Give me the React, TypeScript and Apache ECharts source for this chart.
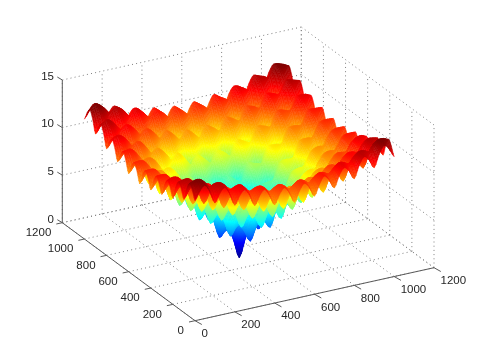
import React, { useEffect, useRef } from "react";
import * as echarts from "echarts";

const xTicks = [0, 200, 400, 600, 800, 1000, 1200];
const yTicks = [0, 200, 400, 600, 800, 1000, 1200];
const zTicks = [0, 5, 10, 15];
const axisMax = 1200;
const zMax = 15;
const gridStep = 25;
const heightUnit = 0.1;
const colourMax = 14.2;
const meshSplit = 3;
const jetKnots = [0, 0.125, 0.375, 0.625, 0.875, 1];
const jetColours = [[0, 0, 143], [0, 0, 255], [0, 255, 255], [255, 255, 0], [255, 0, 0], [127, 0, 0]];

// Surface heights in tenths, rows by y (0..1000), columns by x (0..1000).
const heights = [
[126,135,140,132,119,128,133,125,112,121,126,119,107,116,122,114,103,113,119,112,101,112,119,113,103,114,122,116,107,119,126,121,112,125,133,128,119,132,140,135,126],
[135,140,142,136,128,132,134,129,120,125,128,122,114,119,122,117,110,116,119,115,109,115,119,116,110,117,122,119,114,122,128,125,120,129,134,132,128,136,142,140,135],
[140,142,142,138,132,134,134,130,124,126,127,123,118,120,121,118,113,116,118,115,111,115,118,116,113,118,121,120,118,123,127,126,124,130,134,134,132,138,142,142,140],
[132,136,138,132,123,128,129,123,115,119,122,116,108,113,115,110,103,109,112,108,101,108,112,109,103,110,115,113,108,116,122,119,115,123,129,128,123,132,138,136,132],
[119,128,132,123,110,119,123,114,101,110,115,106,94,103,108,100,88,98,104,97,86,97,104,98,88,100,108,103,94,106,115,110,101,114,123,119,110,123,132,128,119],
[128,132,134,128,119,123,124,118,109,114,115,109,101,106,108,103,95,101,104,100,93,100,104,101,95,103,108,106,101,109,115,114,109,118,124,123,119,128,134,132,128],
[133,134,134,129,123,124,124,119,113,115,115,110,104,106,107,103,98,101,102,99,95,99,102,101,98,103,107,106,104,110,115,115,113,119,124,124,123,129,134,134,133],
[125,129,130,123,114,118,119,113,104,108,109,103,94,99,101,95,87,92,95,91,84,91,95,92,87,95,101,99,94,103,109,108,104,113,119,118,114,123,130,129,125],
[112,120,124,115,101,109,113,104,90,98,102,93,80,88,93,84,72,81,87,80,69,80,87,81,72,84,93,88,80,93,102,98,90,104,113,109,101,115,124,120,112],
[121,125,126,119,110,114,115,108,98,102,103,96,87,91,93,87,78,84,86,82,75,82,86,84,78,87,93,91,87,96,103,102,98,108,115,114,110,119,126,125,121],
[126,128,127,122,115,115,115,109,102,103,102,97,90,91,91,86,80,83,84,81,77,81,84,83,80,86,91,91,90,97,102,103,102,109,115,115,115,122,127,128,126],
[119,122,123,116,106,109,110,103,93,96,97,90,80,84,85,78,70,74,77,72,65,72,77,74,70,78,85,84,80,90,97,96,93,103,110,109,106,116,123,122,119],
[107,114,118,108,94,101,104,94,80,87,90,80,66,73,77,68,54,63,68,60,49,60,68,63,54,68,77,73,66,80,90,87,80,94,104,101,94,108,118,114,107],
[116,119,120,113,103,106,106,99,88,91,91,84,73,76,77,70,60,64,67,62,55,62,67,64,60,70,77,76,73,84,91,91,88,99,106,106,103,113,120,119,116],
[122,122,121,115,108,108,107,101,93,93,91,85,77,77,75,69,62,63,64,60,55,60,64,63,62,69,75,77,77,85,91,93,93,101,107,108,108,115,121,122,122],
[114,117,118,110,100,103,103,95,84,87,86,78,68,70,69,62,51,54,56,50,43,50,56,54,51,62,69,70,68,78,86,87,84,95,103,103,100,110,118,117,114],
[103,110,113,103,88,95,98,87,72,78,80,70,54,60,62,51,36,43,46,38,26,38,46,43,36,51,62,60,54,70,80,78,72,87,98,95,88,103,113,110,103],
[113,116,116,109,98,101,101,92,81,84,83,74,63,64,63,54,43,45,45,38,31,38,45,45,43,54,63,64,63,74,83,84,81,92,101,101,98,109,116,116,113],
[119,119,118,112,104,104,102,95,87,86,84,77,68,67,64,56,46,45,43,36,31,36,43,45,46,56,64,67,68,77,84,86,87,95,102,104,104,112,118,119,119],
[112,115,115,108,97,100,99,91,80,82,81,72,60,62,60,50,38,38,36,27,18,27,36,38,38,50,60,62,60,72,81,82,80,91,99,100,97,108,115,115,112],
[101,109,111,101,86,93,95,84,69,75,77,65,49,55,55,43,26,31,31,18,0,18,31,31,26,43,55,55,49,65,77,75,69,84,95,93,86,101,111,109,101],
[112,115,115,108,97,100,99,91,80,82,81,72,60,62,60,50,38,38,36,27,18,27,36,38,38,50,60,62,60,72,81,82,80,91,99,100,97,108,115,115,112],
[119,119,118,112,104,104,102,95,87,86,84,77,68,67,64,56,46,45,43,36,31,36,43,45,46,56,64,67,68,77,84,86,87,95,102,104,104,112,118,119,119],
[113,116,116,109,98,101,101,92,81,84,83,74,63,64,63,54,43,45,45,38,31,38,45,45,43,54,63,64,63,74,83,84,81,92,101,101,98,109,116,116,113],
[103,110,113,103,88,95,98,87,72,78,80,70,54,60,62,51,36,43,46,38,26,38,46,43,36,51,62,60,54,70,80,78,72,87,98,95,88,103,113,110,103],
[114,117,118,110,100,103,103,95,84,87,86,78,68,70,69,62,51,54,56,50,43,50,56,54,51,62,69,70,68,78,86,87,84,95,103,103,100,110,118,117,114],
[122,122,121,115,108,108,107,101,93,93,91,85,77,77,75,69,62,63,64,60,55,60,64,63,62,69,75,77,77,85,91,93,93,101,107,108,108,115,121,122,122],
[116,119,120,113,103,106,106,99,88,91,91,84,73,76,77,70,60,64,67,62,55,62,67,64,60,70,77,76,73,84,91,91,88,99,106,106,103,113,120,119,116],
[107,114,118,108,94,101,104,94,80,87,90,80,66,73,77,68,54,63,68,60,49,60,68,63,54,68,77,73,66,80,90,87,80,94,104,101,94,108,118,114,107],
[119,122,123,116,106,109,110,103,93,96,97,90,80,84,85,78,70,74,77,72,65,72,77,74,70,78,85,84,80,90,97,96,93,103,110,109,106,116,123,122,119],
[126,128,127,122,115,115,115,109,102,103,102,97,90,91,91,86,80,83,84,81,77,81,84,83,80,86,91,91,90,97,102,103,102,109,115,115,115,122,127,128,126],
[121,125,126,119,110,114,115,108,98,102,103,96,87,91,93,87,78,84,86,82,75,82,86,84,78,87,93,91,87,96,103,102,98,108,115,114,110,119,126,125,121],
[112,120,124,115,101,109,113,104,90,98,102,93,80,88,93,84,72,81,87,80,69,80,87,81,72,84,93,88,80,93,102,98,90,104,113,109,101,115,124,120,112],
[125,129,130,123,114,118,119,113,104,108,109,103,94,99,101,95,87,92,95,91,84,91,95,92,87,95,101,99,94,103,109,108,104,113,119,118,114,123,130,129,125],
[133,134,134,129,123,124,124,119,113,115,115,110,104,106,107,103,98,101,102,99,95,99,102,101,98,103,107,106,104,110,115,115,113,119,124,124,123,129,134,134,133],
[128,132,134,128,119,123,124,118,109,114,115,109,101,106,108,103,95,101,104,100,93,100,104,101,95,103,108,106,101,109,115,114,109,118,124,123,119,128,134,132,128],
[119,128,132,123,110,119,123,114,101,110,115,106,94,103,108,100,88,98,104,97,86,97,104,98,88,100,108,103,94,106,115,110,101,114,123,119,110,123,132,128,119],
[132,136,138,132,123,128,129,123,115,119,122,116,108,113,115,110,103,109,112,108,101,108,112,109,103,110,115,113,108,116,122,119,115,123,129,128,123,132,138,136,132],
[140,142,142,138,132,134,134,130,124,126,127,123,118,120,121,118,113,116,118,115,111,115,118,116,113,118,121,120,118,123,127,126,124,130,134,134,132,138,142,142,140],
[135,140,142,136,128,132,134,129,120,125,128,122,114,119,122,117,110,116,119,115,109,115,119,116,110,117,122,119,114,122,128,125,120,129,134,132,128,136,142,140,135],
[126,135,140,132,119,128,133,125,112,121,126,119,107,116,122,114,103,113,119,112,101,112,119,113,103,114,122,116,107,119,126,121,112,125,133,128,119,132,140,135,126],
];

// Orthographic view of the box, in page pixels.
const origin = [195, 320.7];
const xEdge = [239, -53];
const yEdge = [-132.7, -98];
const zEdge = [0, -142.7];

const FONT = "'Liberation Sans', Arial, sans-serif";
const DOT = "#808080";
const AXIS = "#5a5a5a";
const INK = "#262626";

function plane(x: number, y: number, z: number) {
  return [
    origin[0] + (x / axisMax) * xEdge[0] + (y / axisMax) * yEdge[0] + (z / zMax) * zEdge[0],
    origin[1] + (x / axisMax) * xEdge[1] + (y / axisMax) * yEdge[1] + (z / zMax) * zEdge[1],
  ];
}

function jet(z: number) {
  const t = Math.max(0, Math.min(1, z / colourMax));
  let k = 0;
  while (k < jetKnots.length - 2 && t > jetKnots[k + 1]) k++;
  const f = (t - jetKnots[k]) / (jetKnots[k + 1] - jetKnots[k]);
  const c = jetColours[k].map((v, n) => Math.round(v + (jetColours[k + 1][n] - v) * f));
  return `rgb(${c[0]},${c[1]},${c[2]})`;
}

// Colour of one mesh cell: a gradient along the direction in which its height changes on the page.
function shade(p: number[][], z: number[]) {
  const ax = p[1][0] - p[0][0], ay = p[1][1] - p[0][1];
  const bx = p[3][0] - p[0][0], by = p[3][1] - p[0][1];
  const det = ax * by - ay * bx;
  const zMin = Math.min(z[0], z[1], z[2], z[3]);
  const zTop = Math.max(z[0], z[1], z[2], z[3]);
  const mean = (z[0] + z[1] + z[2] + z[3]) / 4;
  if (Math.abs(det) < 0.05 || zTop - zMin < 1e-3) return jet(mean);
  const dz1 = z[1] - z[0], dz2 = z[3] - z[0];
  const gx = (dz1 * by - dz2 * ay) / det;
  const gy = (ax * dz2 - bx * dz1) / det;
  const len2 = gx * gx + gy * gy;
  if (len2 < 1e-8) return jet(mean);
  const sx = p[0][0] + (gx * (zMin - z[0])) / len2, sy = p[0][1] + (gy * (zMin - z[0])) / len2;
  const ex = p[0][0] + (gx * (zTop - z[0])) / len2, ey = p[0][1] + (gy * (zTop - z[0])) / len2;
  const stops = [{ offset: 0, color: jet(zMin) }];
  jetKnots.forEach((k) => {
    const v = k * colourMax;
    if (v > zMin && v < zTop) stops.push({ offset: (v - zMin) / (zTop - zMin), color: jet(v) });
  });
  stops.push({ offset: 1, color: jet(zTop) });
  return new echarts.graphic.LinearGradient(sx, sy, ex, ey, stops, true);
}

// The mesh is drawn as a smooth curved sheet through the read heights, as a smooth line runs through its points.
function curve(a: number, b: number, c: number, d: number, t: number) {
  return b + 0.5 * t * (c - a + t * (2 * a - 5 * b + 4 * c - d + t * (3 * (b - c) + d - a)));
}

function meshHeights() {
  const n = heights.length;
  const at = (k: number) => Math.max(0, Math.min(n - 1, k));
  const fineCount = (n - 1) * meshSplit + 1;
  const rows = heights.map((row) => {
    const out: number[] = [];
    for (let f = 0; f < fineCount; f++) {
      const k = Math.min(n - 2, Math.floor(f / meshSplit));
      const t = f / meshSplit - k;
      out.push(curve(row[at(k - 1)], row[at(k)], row[at(k + 1)], row[at(k + 2)], t));
    }
    return out;
  });
  const mesh: number[][] = [];
  for (let g = 0; g < fineCount; g++) {
    const k = Math.min(n - 2, Math.floor(g / meshSplit));
    const t = g / meshSplit - k;
    const line: number[] = [];
    for (let f = 0; f < fineCount; f++) {
      line.push(Math.max(0, curve(rows[at(k - 1)][f], rows[at(k)][f], rows[at(k + 1)][f], rows[at(k + 2)][f], t)) * heightUnit);
    }
    mesh.push(line);
  }
  return mesh;
}

function surfaceCells(count: number) {
  const n = count - 1;
  const out: number[][] = [];
  for (let s = 2 * n - 2; s >= 0; s--) {
    for (let j = n - 1; j >= 0; j--) {
      const i = s - j;
      if (i < 0 || i >= n) continue;
      out.push([i, j]);
    }
  }
  return out;
}

function gridSegments() {
  const out: number[][] = [];
  xTicks.forEach((x) => {
    out.push([x, 0, 0, x, axisMax, 0]);
    out.push([x, axisMax, 0, x, axisMax, zMax]);
  });
  yTicks.forEach((y) => {
    out.push([0, y, 0, axisMax, y, 0]);
    out.push([axisMax, y, 0, axisMax, y, zMax]);
  });
  zTicks.forEach((z) => {
    out.push([0, axisMax, z, axisMax, axisMax, z]);
    out.push([axisMax, 0, z, axisMax, axisMax, z]);
  });
  return out;
}

function axisSegments() {
  const out: number[][] = [
    [0, 0, 0, axisMax, 0, 0, 0, 0],
    [0, 0, 0, 0, axisMax, 0, 0, 0],
    [0, axisMax, 0, 0, axisMax, zMax, 0, 0],
  ];
  xTicks.forEach((x) => out.push([x, 0, 0, x, 0, 0, 6.8, 3.8]));
  yTicks.forEach((y) => out.push([0, y, 0, 0, y, 0, -6, 1.3]));
  zTicks.forEach((z) => out.push([0, axisMax, z, 0, axisMax, z, -5, -3]));
  return out;
}

function tickLabels() {
  const out: any[] = [];
  xTicks.forEach((x) => out.push({ value: [x, 0, 0], text: String(x), dx: 6.5, dy: 12.4, align: "left" }));
  yTicks.forEach((y) => out.push({ value: [0, y, 0], text: String(y), dx: -11, dy: 9.3, align: "right" }));
  zTicks.forEach((z) => out.push({ value: [0, axisMax, z], text: String(z), dx: -8.3, dy: -4.2, align: "right" }));
  return out;
}

export default function App() {
  const ref = useRef<HTMLDivElement>(null);
  useEffect(() => {
    const chart = echarts.init(ref.current!, undefined, { renderer: "svg" });
    const mesh = meshHeights();
    const cells = surfaceCells(mesh.length);
    const segments = gridSegments();
    const axes = axisSegments();
    const labels = tickLabels();
    const meshStep = gridStep / meshSplit;
    chart.setOption({
      animation: false,
      backgroundColor: "#ffffff",
      grid: { left: 0, right: 0, top: 0, bottom: 0 },
      xAxis: { type: "value", min: 0, max: 480, show: false },
      yAxis: { type: "value", min: 0, max: 361, inverse: true, show: false },
      series: [
        {
          type: "custom",
          name: "grid",
          silent: true,
          z: 1,
          progressive: 0,
          data: segments,
          renderItem: (params: any, api: any) => {
            const d = segments[params.dataIndex];
            const a = api.coord(plane(d[0], d[1], d[2]));
            const b = api.coord(plane(d[3], d[4], d[5]));
            return {
              type: "line",
              shape: { x1: a[0], y1: a[1], x2: b[0], y2: b[1] },
              style: { stroke: DOT, lineWidth: 1, lineDash: [1, 3.2], fill: "none" },
            };
          },
        },
        {
          type: "custom",
          name: "surface",
          silent: true,
          z: 2,
          progressive: 0,
          data: cells,
          renderItem: (params: any, api: any) => {
            const [i, j] = cells[params.dataIndex];
            const corners = [[i, j], [i + 1, j], [i + 1, j + 1], [i, j + 1]];
            const pts = corners.map(([a, b]) => api.coord(plane(a * meshStep, b * meshStep, mesh[b][a])));
            const zs = corners.map(([a, b]) => mesh[b][a]);
            const paint = shade(pts, zs);
            return {
              type: "polygon",
              shape: { points: pts },
              style: { fill: paint, stroke: paint, lineWidth: 0.5, lineJoin: "round" },
            };
          },
        },
        {
          type: "custom",
          name: "axes",
          silent: true,
          z: 3,
          progressive: 0,
          data: axes,
          renderItem: (params: any, api: any) => {
            const d = axes[params.dataIndex];
            const a = api.coord(plane(d[0], d[1], d[2]));
            const b = api.coord(plane(d[3], d[4], d[5]));
            return {
              type: "line",
              shape: { x1: a[0], y1: a[1], x2: b[0] + d[6], y2: b[1] + d[7] },
              style: { stroke: AXIS, lineWidth: 1, fill: "none" },
            };
          },
        },
        {
          type: "custom",
          name: "labels",
          silent: true,
          z: 4,
          progressive: 0,
          data: labels,
          renderItem: (params: any, api: any) => {
            const l = labels[params.dataIndex];
            const a = api.coord(plane(l.value[0], l.value[1], l.value[2]));
            return {
              type: "text",
              x: a[0] + l.dx,
              y: a[1] + l.dy,
              style: {
                text: l.text,
                fill: INK,
                fontFamily: FONT,
                fontSize: 11.5,
                align: l.align,
                verticalAlign: "middle",
              },
            };
          },
        },
      ],
    });
    return () => chart.dispose();
  }, []);
  return <div ref={ref} style={{ position: "absolute", left: 0, top: 0, width: 480, height: 361, filter: "blur(0.35px)" }} />;
}
